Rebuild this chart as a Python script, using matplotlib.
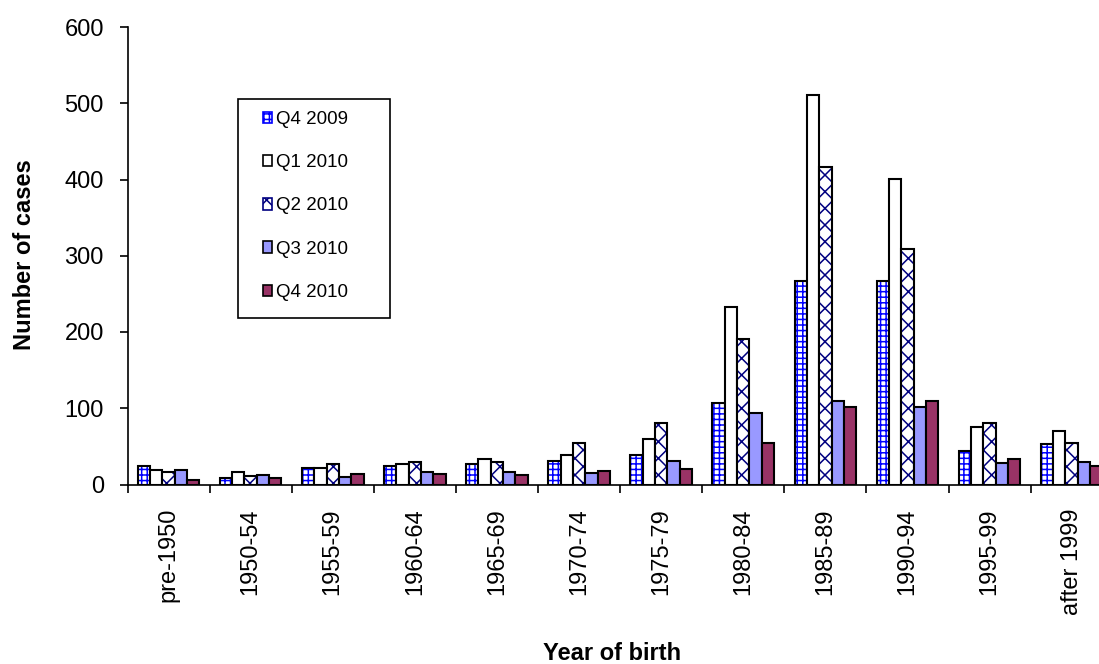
import numpy as np
import matplotlib
matplotlib.use("Agg")
import matplotlib.pyplot as plt
from matplotlib.patches import Rectangle

plt.rcParams['font.family'] = ['Liberation Sans', 'DejaVu Sans']
plt.rcParams['hatch.linewidth'] = 1.1

# cases by year of birth, per quarter
categories = ['pre-1950', '1950-54', '1955-59', '1960-64', '1965-69', '1970-74',
              '1975-79', '1980-84', '1985-89', '1990-94', '1995-99', 'after 1999']
series_names = ['Q4 2009', 'Q1 2010', 'Q2 2010', 'Q3 2010', 'Q4 2010']
q4_2009 = [24, 8, 21, 24, 27, 31, 39, 107, 267, 267, 44, 53]
q1_2010 = [19, 16, 21, 27, 34, 39, 60, 233, 511, 401, 76, 70]
q2_2010 = [16, 11, 27, 30, 29, 55, 81, 191, 417, 309, 81, 55]
q3_2010 = [19, 13, 10, 16, 16, 15, 31, 94, 109, 101, 28, 29]
q4_2010 = [6, 8, 14, 14, 12, 18, 20, 55, 101, 109, 34, 24]
y_ticks = [0, 100, 200, 300, 400, 500, 600]

# face colour, hatch, hatch colour
styles = [
    ('white', '+++', '#0000ff'),
    ('white', None, None),
    ('white', 'xx', '#000080'),
    ('#9999ff', None, None),
    ('#993366', None, None),
]

W, H = 1099, 664
fig = plt.figure(figsize=(W / 100, H / 100), dpi=100)
ax = fig.add_axes([127.5 / W, (H - 484.5) / H, 985.2 / W, 457.5 / H])

x = np.arange(len(categories))
bw = 0.15
handles = []
for i, (vals, name, (fc, hatch, hc)) in enumerate(
        zip([q4_2009, q1_2010, q2_2010, q3_2010, q4_2010], series_names, styles)):
    pos = x + (i - 2) * bw
    if hatch:
        ax.bar(pos, vals, bw, color=fc, hatch=hatch, edgecolor=hc, linewidth=0)
        ax.bar(pos, vals, bw, facecolor='none', edgecolor='black', linewidth=1.5)
    else:
        ax.bar(pos, vals, bw, color=fc, edgecolor='black', linewidth=1.5)
    handles.append(Rectangle((0, 0), 1, 1, facecolor=fc, hatch=hatch,
                             edgecolor=hc if hc else 'black', linewidth=1.2,
                             label=name))

ax.set_xlim(-0.5, len(categories) - 0.5)
ax.set_ylim(0, 600)
ax.set_yticks(y_ticks)
ax.set_xticks(x)
ax.set_xticklabels(categories, rotation=90, fontsize=17)
ax.set_xticks(np.arange(len(categories)) - 0.5, minor=True)
ax.tick_params(axis='x', which='major', length=0, pad=17)
ax.tick_params(axis='x', which='minor', length=5.5, width=1.2, direction='out')
ax.tick_params(axis='y', labelsize=17, length=6, width=1.2, pad=11)
for side in ['top', 'right']:
    ax.spines[side].set_visible(False)
for side in ['left', 'bottom']:
    ax.spines[side].set_linewidth(1.2)

fig.text(25 / W, 1 - 255 / H, 'Number of cases', rotation=90, fontsize=17,
         fontweight='bold', ha='center', va='center')
fig.text(612 / W, 1 - 653 / H, 'Year of birth', fontsize=17,
         fontweight='bold', ha='center', va='center')

leg = fig.legend(handles=handles, loc='upper left',
                 bbox_to_anchor=(263 / W, 1 - 111 / H), frameon=False,
                 fontsize=13.5, borderpad=0, borderaxespad=0,
                 labelspacing=1.4, handlelength=0.5, handleheight=0.55,
                 handletextpad=0.2)
fig.patches.append(Rectangle((238 / W, 1 - 318 / H), 152 / W, 219 / H,
                             transform=fig.transFigure, fill=False,
                             edgecolor='black', linewidth=1.2))

fig.savefig('out.png', dpi=100, facecolor='white')
